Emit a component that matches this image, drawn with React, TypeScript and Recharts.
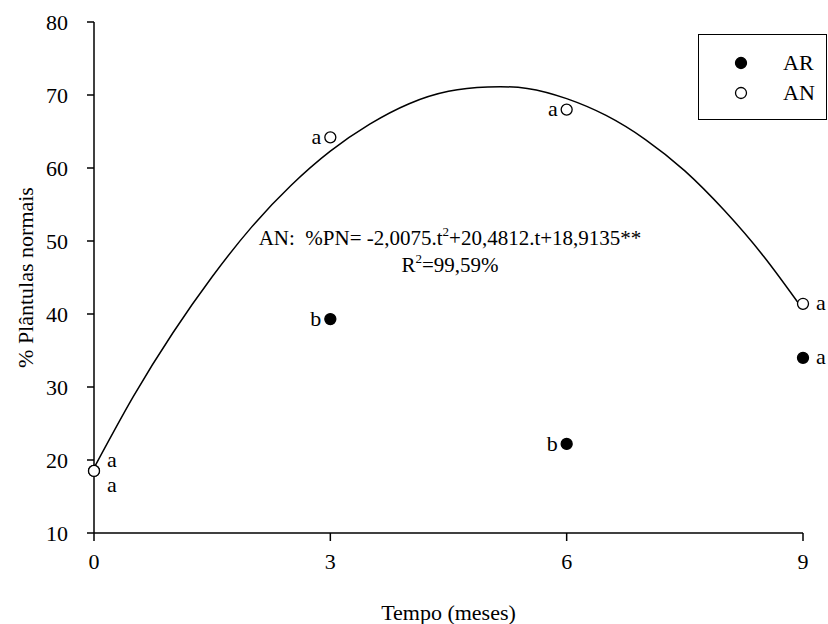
import React from "react";
import {
  ComposedChart,
  Line,
  Scatter,
  XAxis,
  YAxis,
  Label,
} from "recharts";

// tempo (meses)
const tempo = [0, 3, 6, 9];
// % plântulas normais
const anValues = [18.5, 64.2, 68.0, 41.4];
const arValues = [18.5, 39.3, 22.2, 34.0];
// letters of the means test
const anLetters = ["a", "a", "a", "a"];
const arLetters = ["a", "b", "b", "a"];

// regression curve for AN
const curveT = [0, 0.5, 1, 1.5, 2, 2.5, 3, 3.5, 4, 4.5, 5, 5.5, 6, 6.5, 7, 7.5, 8, 8.5, 9];
const curveY = [
  18.9, 28.7, 37.4, 45.1, 51.9, 57.6, 62.3, 66.0, 68.8, 70.5, 71.1, 70.9, 69.5,
  67.2, 63.9, 59.6, 54.2, 47.9, 40.6,
];

const xTicks = [0, 3, 6, 9];
const yTicks = [10, 20, 30, 40, 50, 60, 70, 80];

const curveData = curveT.map((t, i) => ({ t, fit: curveY[i] }));
const anData = tempo.map((t, i) => ({ t, v: anValues[i], letter: anLetters[i] }));
const arData = tempo.map((t, i) => ({ t, v: arValues[i], letter: arLetters[i] }));

// where the letter sits next to each point
const anSide = ["rightUp", "left", "left", "right"];
const arSide = ["rightDown", "left", "left", "right"];

const FONT = "'Liberation Serif', 'Times New Roman', serif";

const makeShape = (filled: boolean, sides: string[]) => (props: any) => {
  const { cx, cy, payload, index } = props;
  if (cx == null || cy == null) return <g />;
  const i = index ?? tempo.indexOf(payload.t);
  const side = sides[i] || "right";
  let tx = cx + 13;
  let ty = cy;
  let anchor = "start";
  if (side === "left") {
    tx = cx - 9;
    anchor = "end";
  } else if (side === "rightUp") {
    tx = cx + 13;
    ty = cy - 11;
  } else if (side === "rightDown") {
    tx = cx + 13;
    ty = cy + 14;
  }
  return (
    <g>
      <circle
        cx={cx}
        cy={cy}
        r={5.5}
        fill={filled ? "#000" : "#fff"}
        stroke="#000"
        strokeWidth={1.3}
      />
      <text
        x={tx}
        y={ty}
        dy="0.3em"
        textAnchor={anchor}
        fontSize={22}
        fontFamily={FONT}
        fill="#000"
      >
        {payload.letter}
      </text>
    </g>
  );
};

const sup = { fontSize: 13, position: "relative" as const, top: -9, lineHeight: 0 };

const App = () => {
  return (
    <div
      style={{
        position: "absolute",
        left: 0,
        top: 0,
        width: 828,
        height: 624,
        background: "#fff",
        fontFamily: FONT,
        overflow: "hidden",
      }}
    >
      <ComposedChart
        width={828}
        height={624}
        data={curveData}
        margin={{ top: 22, right: 25, left: 0, bottom: 0 }}
      >
        <XAxis
          type="number"
          dataKey="t"
          domain={[0, 9]}
          ticks={xTicks}
          height={91}
          tickSize={8}
          tickMargin={12}
          stroke="#000"
          strokeWidth={1.5}
          tick={{ fill: "#000", fontSize: 22, fontFamily: FONT }}
        >
          <Label
            value="Tempo (meses)"
            position="insideBottom"
            offset={4}
            style={{ fill: "#000", fontSize: 22, fontFamily: FONT }}
          />
        </XAxis>
        <YAxis
          type="number"
          domain={[10, 80]}
          ticks={yTicks}
          width={94}
          tickSize={7}
          tickMargin={19}
          stroke="#000"
          strokeWidth={1.5}
          tick={{ fill: "#000", fontSize: 22, fontFamily: FONT }}
        >
          <Label
            value="% Plântulas normais"
            angle={-90}
            position="insideLeft"
            offset={25}
            style={{
              textAnchor: "middle",
              fill: "#000",
              fontSize: 22,
              fontFamily: FONT,
            }}
          />
        </YAxis>
        <Line
          dataKey="fit"
          type="natural"
          stroke="#000"
          strokeWidth={1.5}
          dot={false}
          activeDot={false}
          isAnimationActive={false}
        />
        <Scatter
          name="AR"
          data={arData}
          dataKey="v"
          shape={makeShape(true, arSide)}
          isAnimationActive={false}
        />
        <Scatter
          name="AN"
          data={anData}
          dataKey="v"
          shape={makeShape(false, anSide)}
          isAnimationActive={false}
        />
      </ComposedChart>

      {/* regression equation */}
      <div
        style={{
          position: "absolute",
          left: 200,
          width: 500,
          top: 225,
          textAlign: "center",
          fontSize: 21,
          lineHeight: "27px",
          color: "#000",
          whiteSpace: "nowrap",
        }}
      >
        <div>
          AN:&nbsp; %PN= -2,0075.t<span style={sup}>2</span>+20,4812.t+18,9135**
        </div>
        <div>
          R<span style={sup}>2</span>=99,59%
        </div>
      </div>

      {/* legend box */}
      <div
        style={{
          position: "absolute",
          left: 698,
          top: 34,
          width: 129,
          height: 86,
          border: "1.5px solid #000",
          boxSizing: "border-box",
          fontSize: 22,
          color: "#000",
        }}
      >
        {[
          { name: "AR", filled: true },
          { name: "AN", filled: false },
        ].map((it, k) => (
          <div
            key={it.name}
            style={{
              position: "absolute",
              left: 35,
              top: 15 + k * 30,
              display: "flex",
              alignItems: "center",
              height: 26,
            }}
          >
            <svg width={14} height={14} style={{ marginRight: 35 }}>
              <circle
                cx={7}
                cy={7}
                r={5.5}
                fill={it.filled ? "#000" : "#fff"}
                stroke="#000"
                strokeWidth={1.3}
              />
            </svg>
            <span>{it.name}</span>
          </div>
        ))}
      </div>
    </div>
  );
};

export default App;
